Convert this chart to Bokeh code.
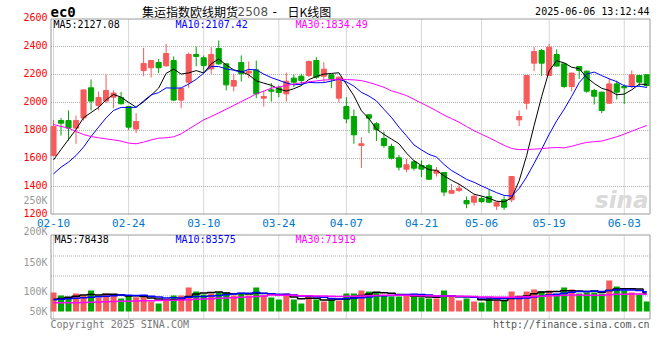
import numpy as np
from bokeh.plotting import figure
from bokeh.models import Range1d, ColumnDataSource
from bokeh.core.properties import value
from bokeh.embed import file_html
from bokeh.resources import INLINE

# ---------------- data ----------------
opens = [1621, 1871, 1871, 1817, 1890, 2105, 1979, 2010, 2038, 2036,
         1971, 1810, 2228, 2248, 2286, 2262, 2300, 2017, 2145, 2343,
         2319, 2240, 2386, 2276, 2117, 2286, 2210, 2233, 2031, 2090,
         2105, 2062, 2174, 2188, 2193, 2300, 2188, 2198, 2031, 1971,
         1900, 1693, 1912, 1848, 1743, 1686, 1605, 1524, 1576, 1550,
         1550, 1495, 1500, 1352, 1371, 1300, 1288, 1314, 1329, 1260,
         1305, 1305, 1876, 1995, 2281, 2371, 2193, 2343, 2276, 2114,
         2257, 2224, 2086, 2074, 1995, 2133, 2114, 2114, 2193, 2198]
highs = [1876, 1890, 1943, 1907, 2093, 2164, 2079, 2200, 2086, 2076,
         1976, 1924, 2390, 2305, 2312, 2419, 2329, 2105, 2357, 2400,
         2336, 2395, 2443, 2280, 2205, 2336, 2293, 2300, 2086, 2140,
         2121, 2214, 2200, 2205, 2300, 2324, 2288, 2200, 2185, 2038,
         1950, 1752, 1915, 1860, 1793, 1705, 1626, 1598, 1586, 1586,
         1562, 1538, 1503, 1419, 1419, 1329, 1343, 1329, 1376, 1290,
         1329, 1473, 1943, 2195, 2395, 2383, 2419, 2379, 2278, 2212,
         2259, 2226, 2098, 2076, 2169, 2157, 2129, 2229, 2195, 2200]
lows = [1615, 1764, 1728, 1705, 1871, 1943, 1943, 1995, 1960, 1986,
        1805, 1781, 2188, 2178, 2210, 2255, 2010, 1960, 2105, 2259,
        2210, 2205, 2270, 2086, 2079, 2150, 2174, 2031, 1971, 2007,
        2038, 2007, 2110, 2121, 2181, 2169, 2145, 2102, 2002, 1852,
        1705, 1533, 1781, 1724, 1676, 1593, 1514, 1502, 1514, 1467,
        1448, 1471, 1331, 1348, 1360, 1245, 1264, 1281, 1281, 1233,
        1233, 1288, 1831, 1950, 2224, 2188, 2190, 2258, 2102, 2079,
        2169, 2069, 1986, 1924, 1993, 2021, 1990, 2102, 2114, 2110]
closes = [1829, 1852, 1817, 1871, 2090, 2010, 2036, 2086, 2067, 1991,
          1824, 1864, 2279, 2300, 2248, 2350, 2017, 2100, 2343, 2329,
          2264, 2343, 2276, 2126, 2157, 2205, 2224, 2062, 2043, 2081,
          2071, 2152, 2145, 2157, 2293, 2181, 2238, 2169, 2181, 1883,
          1769, 1705, 1888, 1807, 1693, 1602, 1538, 1555, 1531, 1524,
          1452, 1514, 1360, 1371, 1388, 1276, 1331, 1293, 1288, 1288,
          1252, 1471, 1900, 2193, 2364, 2281, 2395, 2260, 2114, 2210,
          2229, 2081, 2045, 1943, 2133, 2074, 2105, 2198, 2145, 2121]
volumes = [80100, 67400, 57600, 75900, 67400, 88500, 57600, 75900, 71700, 54800,
           67400, 60400, 60400, 42200, 33700, 46400, 67400, 67400, 101200, 84300,
           71700, 75900, 80100, 80100, 67400, 75900, 67400, 101200, 67400, 59000,
           50600, 75900, 50600, 33700, 67400, 50600, 42200, 50600, 46400, 75900,
           75900, 88500, 84300, 80100, 67400, 63200, 63200, 67400, 63200, 59000,
           54800, 54800, 88500, 67400, 46400, 54800, 42200, 37900, 59000, 46400,
           46400, 84300, 67400, 84300, 92700, 84300, 88500, 71700, 101200, 92700,
           75900, 80100, 80100, 75900, 130700, 105400, 88500, 80100, 71700, 42200]

# moving-average values before enough bars exist
ma5_head = [1590, 1664, 1736, 1807]
ma10_head = [1490, 1538, 1574, 1621, 1681, 1757, 1824, 1890, 1943]
ma30_head = [1843, 1829, 1817, 1793, 1771, 1757, 1748, 1740, 1733, 1724,
             1710, 1705, 1717, 1733, 1745, 1748, 1755, 1776, 1810, 1843,
             1876, 1900, 1926, 1952, 1979, 2007, 2033, 2062, 2081]
vma5_head = [52000, 54800, 60400, 64600]
vma10_head = [49200, 52000, 53400, 56200, 57600, 60400, 62000, 64600, 66000]
vma30_head = [36500, 36500, 36500, 36500, 38000, 39500, 40500, 41500, 42200, 43000,
              43600, 44300, 45000, 45700, 46400, 47100, 47800, 48500, 49800, 51300,
              52700, 54100, 55500, 57000, 58400, 59800, 61200, 63200, 65000]

date_tick_idx = [0, 10, 20, 30, 39, 49, 57, 66, 76]
date_tick_labels = ["02-10", "02-24", "03-10", "03-24", "04-07", "04-21", "05-06", "05-19", "06-03"]
price_ticks = [1200, 1400, 1600, 1800, 2000, 2200, 2400, 2600]
price_grid = [1400, 1600, 1800, 2000, 2200, 2400]
price_ma_text = ["MA5:2127.08", "MA10:2107.42", "MA30:1834.49"]
vol_ma_text = ["MA5:78438", "MA10:83575", "MA30:71919"]
vol_axis_labels = ["200K", "150K", "100K", "50K"]
stray_label = "250K"
title_parts = ["集运指数欧线期货", "2508", "-", "日K线图"]
symbol = "ec0"
stamp = "2025-06-06 13:12:44"
footer_left = "Copyright 2025 SINA.COM"
footer_right = "http://finance.sina.com.cn"

# ---------------- layout helpers (reference pixel -> data units) ----------------
W, H = 660, 360
X0, DX = 53.0, 7.51            # px of first bar centre, px per bar
def ix(xr): return (xr - X0) / DX
def py(yr): return 2600 - (yr - 18) * 200.0 / 28.0
VPX = 4215.0                    # volume per px, zero line at px 311
def vy(yr): return (311 - yr) * VPX

RED, GREEN = "#f65b5b", "#00a600"
MONO = "DejaVu Sans Mono"
CJK = "Noto Sans CJK SC"
GRID = "#b0b0b0"
BORDER = "#9a9a9a"
MA_COLORS = ["black", "#0000ff", "#ff00ff"]

def ma(vals, n, head):
    arr = np.asarray(vals, dtype=float)
    return np.concatenate([np.asarray(head, float), np.convolve(arr, np.ones(n) / n, mode="valid")])

o = np.array(opens, float); c = np.array(closes, float)
xs = np.arange(len(closes))
colors = [RED if cc >= oo else GREEN for oo, cc in zip(o, c)]
src = ColumnDataSource(dict(x=xs, h=highs, l=lows, top=np.maximum(o, c), bot=np.minimum(o, c),
                            color=colors, vol=volumes,
                            ma5=ma(closes, 5, ma5_head), ma10=ma(closes, 10, ma10_head),
                            ma30=ma(closes, 30, ma30_head),
                            v5=ma(volumes, 5, vma5_head), v10=ma(volumes, 10, vma10_head),
                            v30=ma(volumes, 30, vma30_head)))

p = figure(width=W, height=H, output_backend="svg", toolbar_location=None, title=None,
           x_axis_location=None, y_axis_location=None, min_border=0,
           x_range=Range1d(ix(0), ix(W)), y_range=Range1d(py(H), py(0)))
p.outline_line_color = None
p.background_fill_color = "white"
p.border_fill_color = "white"
p.xgrid.visible = False
p.ygrid.visible = False
p.extra_y_ranges = {"vol": Range1d(vy(H), vy(0)), "px": Range1d(H, 0)}
p.extra_x_ranges = {"px": Range1d(0, W)}

def txt(xv, yv, texts, color, size="10px", font=MONO, align="left", style="normal",
        xr="px", yr="px", y_offset=0):
    p.text(x=xv, y=yv, text=texts, text_color=color, text_font=value(font),
           text_font_size=value(size), text_align=align, text_baseline="middle",
           text_font_style=style, y_offset=y_offset, x_range_name=xr, y_range_name=yr)

# ---- grid lines (dotted) ----
L, R = ix(50.5), ix(649.5)
p.segment(x0=[L] * len(price_grid), y0=price_grid, x1=[R] * len(price_grid), y1=price_grid,
          line_color=GRID, line_dash="1 1", line_width=1)
p.segment(x0=date_tick_idx, y0=[1200] * len(date_tick_idx), x1=date_tick_idx, y1=[2600] * len(date_tick_idx),
          line_color=GRID, line_dash="1 1", line_width=1)
vgrid_px = [255.5, 275.5, 295.5]
p.segment(x0=[50.5] * 3, y0=vgrid_px, x1=[649.5] * 3, y1=vgrid_px, x_range_name="px", y_range_name="px",
          line_color=GRID, line_dash="1 1", line_width=1)
p.segment(x0=date_tick_idx, y0=[vy(318)] * len(date_tick_idx), x1=date_tick_idx, y1=[vy(234.5)] * len(date_tick_idx),
          y_range_name="vol", line_color=GRID, line_dash="1 1", line_width=1)

# ---- watermark ----
txt([648], [199], ["sina"], "#dadada", size="23px", font="DejaVu Sans", align="right", style="bold italic")

# ---- candles & price MAs ----
p.segment("x", "h", "x", "l", color="color", line_width=1, source=src)
p.vbar(x="x", width=0.68, top="top", bottom="bot", fill_color="color", line_color="color", source=src)
p.line("x", "ma5", color=MA_COLORS[0], line_width=1, source=src)
p.line("x", "ma10", color=MA_COLORS[1], line_width=1, source=src)
p.line("x", "ma30", color=MA_COLORS[2], line_width=1, source=src)

# ---- volume bars & MAs ----
p.vbar(x="x", width=0.8, top="vol", bottom=0, fill_color="color", line_color=None, source=src, y_range_name="vol")
for key, col in zip(["v5", "v10", "v30"], MA_COLORS):
    p.step("x", key, mode="center", color=col, line_width=1.5, source=src, y_range_name="vol")

# ---- panel borders ----
p.quad(left=[50.5, 50.5], right=[649.5, 649.5], top=[18.5, 234.5], bottom=[213.5, 318.5],
       x_range_name="px", y_range_name="px", fill_color=None, line_color=BORDER, line_width=1)

# ---- axis labels ----
txt([47] * len(price_ticks), price_ticks, [str(t) for t in price_ticks], "#ff0000",
    align="right", yr="default", y_offset=-2)
txt([47], [200], [stray_label], "#999999", align="right")
txt([47] * 4, [230.5, 262, 291, 311], vol_axis_labels, "#999999", align="right")
txt(date_tick_idx, [222.5] * len(date_tick_idx), date_tick_labels, "#0077cc", size="11px",
    align="center", xr="default")

# ---- header ----
txt([50], [11.5], [symbol], "black", size="14px", style="bold")
txt([141.5], [10.5], [title_parts[0]], "black", size="12px", font=CJK)
txt([237], [10.5], [title_parts[1]], "#555555", size="12px", font="DejaVu Sans")
txt([272], [10.5], [title_parts[2]], "black", size="12px", font="DejaVu Sans")
txt([287], [10.5], [title_parts[3]], "black", size="12px", font=CJK)
txt([649], [11], [stamp], "black", align="right")

# ---- MA legends ----
txt([53, 175, 295], [23.5] * 3, price_ma_text, MA_COLORS)
txt([54, 175, 295], [239] * 3, vol_ma_text, MA_COLORS)

# ---- footer ----
txt([50], [323.5], [footer_left], "#777777")
txt([649], [323.5], [footer_right], "#555555", align="right")

open("out.html", "w").write(file_html(p, INLINE))
